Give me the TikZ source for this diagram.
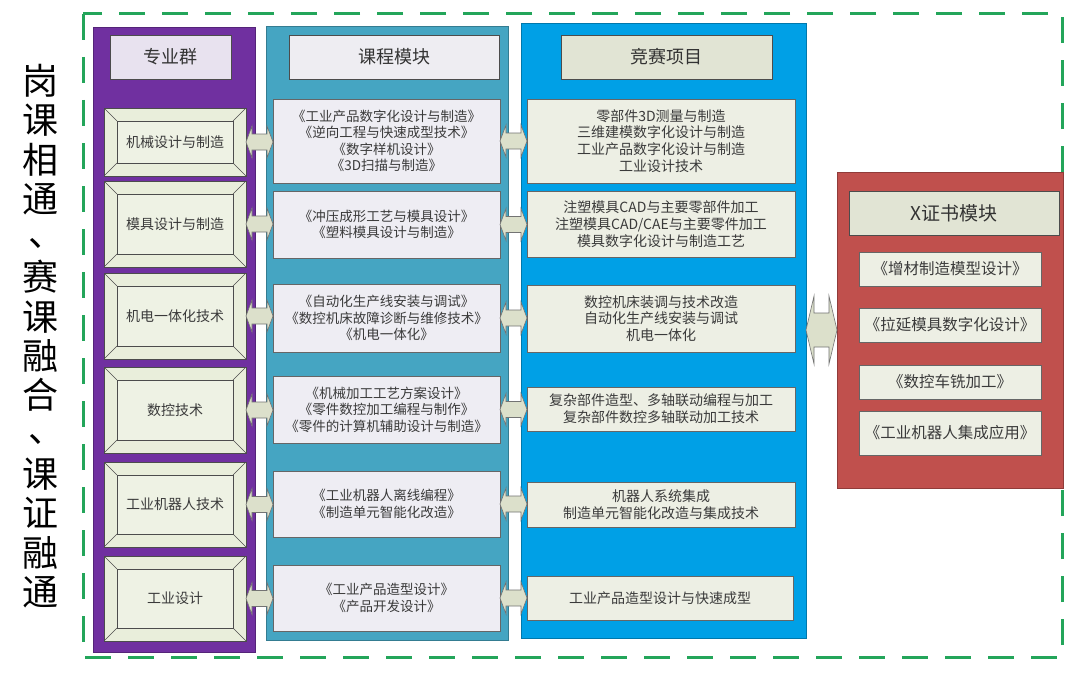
\documentclass[tikz,border=0pt]{standalone}
\usepackage{fontspec}
\setmainfont{Noto Sans CJK SC}
\usetikzlibrary{calc}
\definecolor{grn}{HTML}{23A55A}
\definecolor{purp}{HTML}{7030A0}
\definecolor{tealc}{HTML}{45A5C2}
\definecolor{bluec}{HTML}{00A0E6}
\definecolor{redc}{HTML}{C0504D}
\definecolor{bevfill}{HTML}{E9EEDB}
\definecolor{bevin}{HTML}{EEF2E4}
\definecolor{crsfill}{HTML}{EEEDF3}
\definecolor{cmpfill}{HTML}{EDEFE4}
\definecolor{hdrP}{HTML}{E8E2EF}
\definecolor{hdrC}{HTML}{EEEDF2}
\definecolor{hdrM}{HTML}{E1E4D4}
\definecolor{arrfill}{HTML}{DCE0CB}
\definecolor{txt}{HTML}{3A3A3A}
\newcommand{\dblarr}[5]{%
  \draw[arrsty] (#1) -- ($(#1)+(#3,#4)$) -- ($(#1)+(#3,#5)$) -- ($(#2)+(-#3,#5)$)
   -- ($(#2)+(-#3,#4)$) -- (#2) -- ($(#2)+(-#3,-#4)$) -- ($(#2)+(-#3,-#5)$)
   -- ($(#1)+(#3,-#5)$) -- ($(#1)+(#3,-#4)$) -- cycle;}
\newcommand{\vdun}{\hspace*{0.38em}\raisebox{0.15em}{、}\hspace*{-0.38em}}
\begin{document}
\begin{tikzpicture}[x=1pt,y=-1pt,
  every node/.style={inner sep=0pt, outer sep=0pt},
  col/.style={draw=#1!75!black, fill=#1, line width=0.8pt},
  hdr/.style={draw=black!70, fill=#1, line width=0.7pt, text=black!80, font=\fontsize{18pt}{20pt}\selectfont},
  bevelbox/.style={draw=black!70, fill=bevfill, line width=0.6pt, minimum width=142pt, text=txt,
    font=\fontsize{14pt}{16pt}\selectfont,
    path picture={
      \draw[black!70, line width=0.6pt, fill=bevin]
        ($(path picture bounding box.south west)+(13pt,13pt)$) rectangle
        ($(path picture bounding box.north east)+(-13pt,-13pt)$);
      \draw[black!70, line width=0.6pt]
        (path picture bounding box.south west) -- ++(13pt,13pt)
        (path picture bounding box.north west) -- ++(13pt,-13pt)
        (path picture bounding box.south east) -- ++(-13pt,13pt)
        (path picture bounding box.north east) -- ++(-13pt,-13pt);
    }},
  crs/.style={draw=black!60, fill=crsfill, line width=0.6pt, minimum width=227pt, text=txt, align=center,
    font=\fontsize{13.5pt}{16.4pt}\selectfont},
  cmp/.style={draw=black!60, fill=cmpfill, line width=0.6pt, minimum width=268pt, text=txt, align=center,
    font=\fontsize{14pt}{16.7pt}\selectfont},
  xitem/.style={draw=black!60, fill=cmpfill, line width=0.6pt, minimum width=182pt, text=txt, align=center,
    font=\fontsize{15.5pt}{18pt}\selectfont},
  arrsty/.style={draw=black!55, fill=arrfill, line width=0.6pt, line join=miter},
  title/.style={align=center, text=black, font=\fontsize{36pt}{39.3pt}\selectfont}
]
\useasboundingbox (0,0) rectangle (1080,677);
\fill[white] (0,0) rectangle (1080,677);

% outer dashed frame
\draw[grn, line width=3pt, dash pattern=on 26pt off 17pt] (83,14) rectangle (1062,657);

% vertical title
\node[title] (ttl) at (40,336) {岗\\课\\相\\通\\\vdun\\赛\\课\\融\\合\\\vdun\\课\\证\\融\\通};

% columns
\node[col=purp, minimum width=162pt, minimum height=625pt] (colP) at (174,339.5) {};
\node[col=tealc, minimum width=242pt, minimum height=614pt] (colC) at (387,333) {};
\node[col=bluec, minimum width=285pt, minimum height=615pt] (colM) at (663.5,330.5) {};
\node[col=redc, minimum width=226pt, minimum height=316pt] (colX) at (950,330) {};

% headers
\node[hdr=hdrP, minimum width=121pt, minimum height=44pt] (hP) at (170.5,57) {专业群};
\node[hdr=hdrC, minimum width=210pt, minimum height=44pt] (hC) at (394,57) {课程模块};
\node[hdr=hdrM, minimum width=211pt, minimum height=44pt] (hM) at (666.5,57) {竞赛项目};
\node[hdr=hdrM, minimum width=210pt, minimum height=44pt, font=\fontsize{19pt}{21pt}\selectfont] (hX) at (954,213) {X证书模块};

% major groups
\node[bevelbox, minimum height=68pt] (L1) at (175,142) {机械设计与制造};
\node[bevelbox, minimum height=86pt] (L2) at (175,224) {模具设计与制造};
\node[bevelbox, minimum height=86pt] (L3) at (175,316) {机电一体化技术};
\node[bevelbox, minimum height=86pt] (L4) at (175,410) {数控技术};
\node[bevelbox, minimum height=85pt] (L5) at (175,504.5) {工业机器人技术};
\node[bevelbox, minimum height=85pt] (L6) at (175,598.5) {工业设计};

% courses
\node[crs, minimum height=84pt] (C1) at (386.5,141) {《工业产品数字化设计与制造》\\《逆向工程与快速成型技术》\\《数字样机设计》\\《3D扫描与制造》};
\node[crs, minimum height=67pt] (C2) at (386.5,224.5) {《冲压成形工艺与模具设计》\\《塑料模具设计与制造》};
\node[crs, minimum height=68pt] (C3) at (386.5,318) {《自动化生产线安装与调试》\\《数控机床故障诊断与维修技术》\\《机电一体化》};
\node[crs, minimum height=67pt] (C4) at (386.5,409.5) {《机械加工工艺方案设计》\\《零件数控加工编程与制作》\\《零件的计算机辅助设计与制造》};
\node[crs, minimum height=66pt] (C5) at (386.5,504) {《工业机器人离线编程》\\《制造单元智能化改造》};
\node[crs, minimum height=66pt] (C6) at (386.5,598) {《工业产品造型设计》\\《产品开发设计》};

% competitions
\node[cmp, minimum height=84pt] (M1) at (661,141) {零部件3D测量与制造\\三维建模数字化设计与制造\\工业产品数字化设计与制造\\工业设计技术};
\node[cmp, minimum height=66pt] (M2) at (661,224) {注塑模具CAD与主要零部件加工\\注塑模具CAD/CAE与主要零件加工\\模具数字化设计与制造工艺};
\node[cmp, minimum height=67pt] (M3) at (661,318.5) {数控机床装调与技术改造\\自动化生产线安装与调试\\机电一体化};
\node[cmp, minimum height=44pt] (M4) at (661,409) {复杂部件造型、多轴联动编程与加工\\复杂部件数控多轴联动加工技术};
\node[cmp, minimum height=45pt] (M5) at (661,504.5) {机器人系统集成\\制造单元智能化改造与集成技术};
\node[cmp, minimum height=44pt, minimum width=266pt] (M6) at (660,598) {工业产品造型设计与快速成型};

% certificates
\node[xitem, minimum height=34pt] (X1) at (950,269) {《增材制造模型设计》};
\node[xitem, minimum height=34pt] (X2) at (950,325) {《拉延模具数字化设计》};
\node[xitem, minimum height=34pt] (X3) at (950,382) {《数控车铣加工》};
\node[xitem, minimum height=44pt] (X4) at (950,433) {《工业机器人集成应用》};

% arrows group <-> course
\foreach \i in {1,...,6}{
  \coordinate (a\i l) at (L\i.east);
  \coordinate (a\i r) at (C\i.west |- L\i.east);
  \dblarr{a\i l}{a\i r}{6}{16}{8}
}
% arrows course <-> competition
\foreach \i in {1,...,6}{
  \coordinate (b\i l) at (C\i.east);
  \coordinate (b\i r) at (M\i.west |- C\i.east);
  \dblarr{b\i l}{b\i r}{6}{16}{8}
}
% big arrow competition <-> certificate
\coordinate (bigl) at (colM.east |- colX.west);
\coordinate (bigr) at (colX.west);
\dblarr{bigl}{bigr}{8}{34}{17}
\end{tikzpicture}
\end{document}
